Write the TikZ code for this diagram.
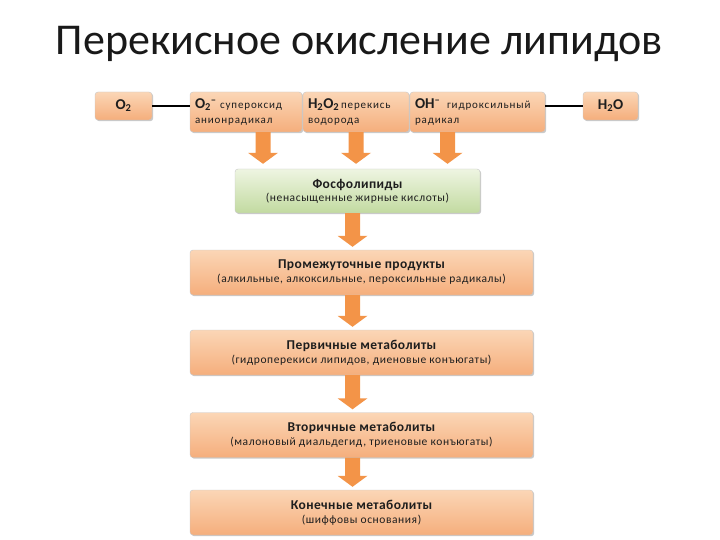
\documentclass[tikz,border=0pt]{standalone}
\usepackage{fontspec}
\setmainfont{Carlito}
\usetikzlibrary{shadows,calc}
\definecolor{orT}{HTML}{FBD6B6}
\definecolor{orM}{HTML}{FDEADB}
\definecolor{orB}{HTML}{F5AE7C}
\definecolor{grT}{HTML}{EEF5E2}
\definecolor{grM}{HTML}{E2EECF}
\definecolor{grB}{HTML}{C2DAA0}
\definecolor{arL}{HTML}{F39448}
\definecolor{arM}{HTML}{FAC294}
\definecolor{txt}{HTML}{1E1E1E}
\newcommand\barrow[2]{%
  \path[arrowfill] let \p1=(#1), \p2=(#2) in
    (\x1-7.5pt,\y1) -- (\x1+7.5pt,\y1) -- (\x1+7.5pt,\y2+11pt) -- (\x1+15pt,\y2+11pt)
    -- (\x1,\y2) -- (\x1-15pt,\y2+11pt) -- (\x1-7.5pt,\y2+11pt) -- cycle;}
\newcommand\myhd{\bfseries\fontsize{13.5}{17}\selectfont\addfontfeatures{LetterSpace=3}}
\newcommand\mysb{\fontsize{11.5}{15}\selectfont\addfontfeatures{LetterSpace=5}}
\newcommand\myfm{\bfseries\fontsize{15}{15}\selectfont}
\newcommand\myts{\fontsize{11}{14}\selectfont\addfontfeatures{LetterSpace=8}}
\begin{document}
\begin{tikzpicture}[x=1pt,y=-1pt,
  box/.style={draw=black!22, line width=0.4pt, rounded corners=3pt,
    top color=orT, middle color=orM, bottom color=orB, text=txt,
    drop shadow={shadow xshift=1.2pt, shadow yshift=-1.2pt, fill=black!35, opacity=0.6},
    inner sep=2pt},
  topbox/.style={box, align=left, anchor=center},
  mainbox/.style={box, minimum width=343, minimum height=45, align=center},
  greenbox/.style={mainbox, top color=grT, middle color=grM, bottom color=grB, minimum width=245, minimum height=44},
  arrowfill/.style={left color=arL, middle color=arM, right color=arL},
  conn/.style={line width=1.6pt, black}
]
\useasboundingbox (0,0) rectangle (720,540);
\node[font=\fontsize{44}{48}\selectfont, text=black!90] (title) at (359,44) {Перекисное окисление липидов};

\node[topbox, minimum width=57, minimum height=28, align=center] (o2) at (123.5,106) {\myfm O\textsubscript{2}};
\node[topbox, minimum width=112, minimum height=40, text width=102] (sup) at (246,112)
 {{\myfm O\textsubscript{2}\textsuperscript{--}}\myts\ супероксид\\[3pt] анионрадикал};
\node[topbox, minimum width=106, minimum height=40, text width=96] (per) at (356,112)
 {{\myfm H\textsubscript{2}O\textsubscript{2}}\myts\,перекись\\[3pt] водорода};
\node[topbox, minimum width=135, minimum height=40, text width=125] (oh) at (477.5,112)
 {{\myfm OH\textsuperscript{--}}\myts\ \ гидроксильный\\[3pt] радикал};
\node[topbox, minimum width=55, minimum height=28, align=center] (h2o) at (610.5,106) {\myfm H\textsubscript{2}O};

\draw[conn] (o2.east) -- (o2.east -| sup.west);
\draw[conn] (h2o.west -| oh.east) -- (h2o.west);

\node[greenbox] (phos) at (357.5,191) {{\myhd Фосфолипиды}\\[1pt] {\mysb (ненасыщенные жирные кислоты)}};
\node[mainbox] (inter) at (361.5,272.5) {{\myhd Промежуточные продукты}\\[2pt] {\mysb (алкильные, алкоксильные, пероксильные радикалы)}};
\node[mainbox] (prim) at (361.5,352.5) {{\myhd Первичные метаболиты}\\[2pt] {\mysb (гидроперекиси липидов, диеновые конъюгаты)}};
\node[mainbox] (sec) at (361.5,435) {{\myhd Вторичные метаболиты}\\[2pt] {\mysb (малоновый диальдегид, триеновые конъюгаты)}};
\node[mainbox] (fin) at (361.5,512.5) {{\myhd Конечные метаболиты}\\[2pt] {\mysb (шиффовы основания)}};

\coordinate (a1) at ($(sup.south)+(17,0)$);
\coordinate (a3) at ($(oh.south)+(-30,0)$);
\barrow{a1}{$(phos.north -| a1)+(0,-5)$}
\barrow{per.south}{$(phos.north -| per.south)+(0,-5)$}
\barrow{a3}{$(phos.north -| a3)+(0,-5)$}
\coordinate (c) at ($(phos.south)+(-5,0)$);
\barrow{c}{$(inter.north -| c)+(0,-3)$}
\barrow{$(inter.south -| c)$}{$(prim.north -| c)+(0,-3)$}
\barrow{$(prim.south -| c)$}{$(sec.north -| c)+(0,-3)$}
\barrow{$(sec.south -| c)$}{$(fin.north -| c)+(0,-3)$}
\end{tikzpicture}
\end{document}
